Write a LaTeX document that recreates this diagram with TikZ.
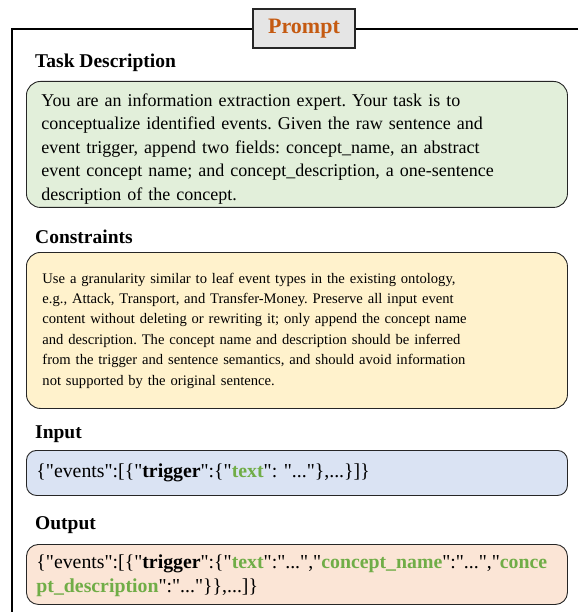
\documentclass[tikz,border=0pt]{standalone}
\usepackage{fontspec}
\setmainfont{Liberation Serif}[Ligatures=TeXOff]
\usepackage{xcolor}

\definecolor{promptc}{HTML}{C55A11}
\definecolor{keyc}{HTML}{70AD47}
\definecolor{taskc}{HTML}{E2EFDA}
\definecolor{rulec}{HTML}{FFF2CC}
\definecolor{inc}{HTML}{DAE3F3}
\definecolor{outc}{HTML}{FBE5D6}

\newcommand{\kw}[1]{\textcolor{keyc}{\textbf{#1}}}

\begin{document}
\frenchspacing
\begin{tikzpicture}[x=1pt,y=-1pt]

  \useasboundingbox (0,0) rectangle (578,612);
  \node[anchor=center,inner sep=0mm] (X) at (0,0) {};

  % node styles
  \tikzstyle{Head}=[
  anchor=west,
  inner sep=0pt,
  font=\fontsize{19.5}{22}\selectfont\bfseries]

  \tikzstyle{Box}=[
  anchor=north west,
  draw=black!85,
  line width=0.9pt,
  align=left,
  inner ysep=0pt,
  minimum width=541pt,
  shape=rectangle,rounded corners=14pt,
  font=\fontsize{18}{23.5}\selectfont]

  \tikzstyle{Json}=[
  font=\fontsize{19.8}{24}\selectfont,
  inner xsep=10pt,
  text width=521pt]

  \tikzstyle{Title}=[
  draw=black!85,
  line width=1.8pt,
  fill=black!10,
  text=promptc,
  minimum width=102pt,
  minimum height=39pt,
  font=\fontsize{22}{24}\selectfont\bfseries]

  % outer frame
  \draw[line width=2pt] (578,29) -- (11.5,29) -- (11.5,612);

  \draw (X) node[Title] (P) at +(304,28.5) {Prompt};

  \draw (X) node[Head] (H1) at +(35,63) {Task Description};
  \draw (X) node[Box,fill=taskc,minimum height=126pt,inner xsep=15pt,text width=511pt] (B1) at +(26,81)
  {\rule{0pt}{21pt}You are an information extraction expert. Your task is to\\
   conceptualize identified events. Given the raw sentence and\\
   event trigger, append two fields: concept\_name, an abstract\\
   event concept name; and concept\_description, a one-sentence\\
   description of the concept.};

  \draw (X) node[Head] (H2) at +(35,236.5) {Constraints};
  \draw (X) node[Box,fill=rulec,minimum height=156pt,inner xsep=16pt,text width=509pt,
    font=\fontsize{14.6}{20.4}\selectfont] (B2) at +(26,252)
  {Use a granularity similar to leaf event types in the existing ontology,\\
   e.g., Attack, Transport, and Transfer-Money. Preserve all input event\\
   content without deleting or rewriting it; only append the concept name\\
   and description. The concept name and description should be inferred\\
   from the trigger and sentence semantics, and should avoid information\\
   not supported by the original sentence.};

  \draw (X) node[Head] (H3) at +(35,434) {Input};
  \draw (X) node[Box,Json,fill=inc,minimum height=45pt,rounded corners=10pt] (B3) at +(26,450)
  {\{"events":[\{"\textbf{trigger}":\{"\kw{text}": "..."\},...\}]\}};

  \draw (X) node[Head] (H4) at +(35,525) {Output};
  \draw (X) node[Box,Json,fill=outc,minimum height=60pt,rounded corners=12pt] (B4) at +(26,544)
  {\rule{0pt}{17pt}\{"events":[\{"\textbf{trigger}":\{"\kw{text}":"...","\kw{concept\_name}":"...","\kw{conce}\\
   \kw{pt\_description}":"..."\}\},...]\}};

\end{tikzpicture}
\end{document}
